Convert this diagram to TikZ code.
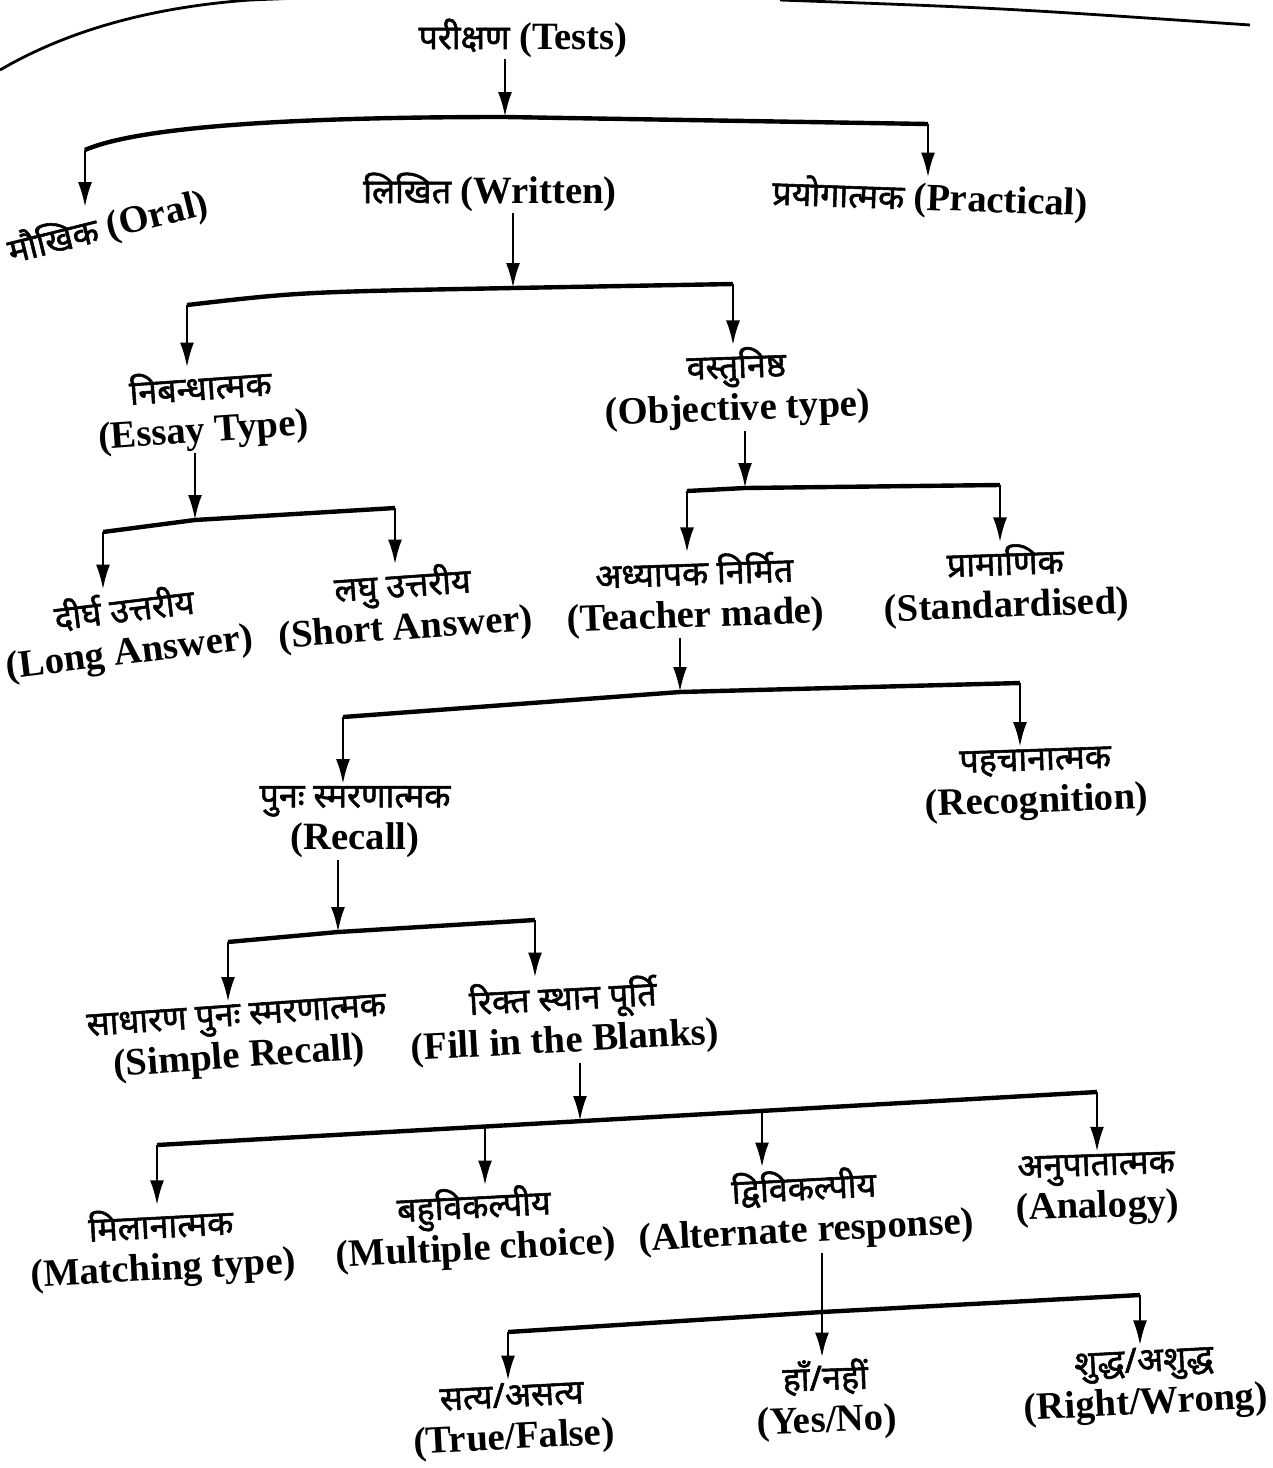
\documentclass[tikz,border=0pt]{standalone}
\usepackage{fontspec}
\setmainfont{Liberation Serif}
\newfontfamily\dev[Script=Devanagari,Scale=0.88,FakeBold=1.6]{Noto Sans}
\usetikzlibrary{arrows.meta}

\newcommand{\Hi}[1]{{\dev #1}}% hindi part of a label

\tikzset{
  lbl/.style={align=center, inner sep=1pt, font=\bfseries\fontsize{22}{24}\selectfont},
  bar/.style={line width=2.5pt, line join=miter},
  arr/.style={line width=1.6pt, -{Latex[length=5mm,width=2.8mm]}},
  edge/.style={line width=1.6pt},
}

\begin{document}
\begin{tikzpicture}[x=0.02cm, y=-0.02cm]
  \useasboundingbox (0,0) rectangle (1272,1468);
  % page border of the scan
  \draw[edge] (0,70) .. controls (60,35) and (140,8) .. (250,0) -- (300,-2);
  \draw[edge] (780,0) .. controls (1000,8) .. (1250,25);
  %
  \node[lbl] (tests) at (523,38) {\Hi{परीक्षण} (Tests)};
  \node[lbl, rotate=14] (oral) at (108,228) {\Hi{मौखिक} (Oral)};
  \node[lbl] (written) at (490,192) {\Hi{लिखित} (Written)};
  \node[lbl, rotate=-2] (practical) at (930,199) {\Hi{प्रयोगात्मक} (Practical)};
  \node[lbl, rotate=4] (essay) at (202,410) {\Hi{निबन्धात्मक}\\(Essay Type)};
  \node[lbl, rotate=2] (objective) at (737,388) {\Hi{वस्तुनिष्ठ}\\(Objective type)};
  \node[lbl, rotate=7] (longans) at (127,632) {\Hi{दीर्घ उत्तरीय}\\(Long Answer)};
  \node[lbl, rotate=4] (shortans) at (404,607) {\Hi{लघु उत्तरीय}\\(Short Answer)};
  \node[lbl, rotate=2] (teacher) at (695,595) {\Hi{अध्यापक निर्मित}\\(Teacher made)};
  \node[lbl, rotate=2] (standard) at (1006,585) {\Hi{प्रामाणिक}\\(Standardised)};
  \node[lbl] (recall) at (355,822) {\Hi{पुनः स्मरणात्मक}\\(Recall)};
  \node[lbl, rotate=2] (recog) at (1036,785) {\Hi{पहचानात्मक}\\(Recognition)};
  \node[lbl, rotate=4] (simple) at (238,1040) {\Hi{साधारण पुनः स्मरणात्मक}\\(Simple Recall)};
  \node[lbl, rotate=3] (fill) at (564,1020) {\Hi{रिक्त स्थान पूर्ति}\\(Fill in the Blanks)};
  \node[lbl, rotate=3] (matching) at (162,1248) {\Hi{मिलानात्मक}\\(Matching type)};
  \node[lbl, rotate=3] (multiple) at (475,1228) {\Hi{बहुविकल्पीय}\\(Multiple choice)};
  \node[lbl, rotate=3] (alternate) at (805,1210) {\Hi{द्विविकल्पीय}\\(Alternate response)};
  \node[lbl, rotate=2] (analogy) at (1097,1190) {\Hi{अनुपातात्मक}\\(Analogy)};
  \node[lbl, rotate=3] (truefalse) at (513,1420) {\Hi{सत्य/असत्य}\\(True/False)};
  \node[lbl, rotate=2] (yesno) at (826,1400) {\Hi{हाँ/नहीं}\\(Yes/No)};
  \node[lbl, rotate=3] (rightwrong) at (1145,1385) {\Hi{शुद्ध/अशुद्ध}\\(Right/Wrong)};
  %
  % tests
  \coordinate (l1) at (85,150);
  \coordinate (j1) at (505,117);
  \coordinate (r1) at (928,124);
  \draw[bar] (l1) .. controls (140,126) and (300,117) .. (j1) -- (r1);
  \draw[arr] (tests.south -| j1) -- (j1);
  \draw[arr] (l1) -- (l1 |- oral.north);
  \draw[arr] (r1) -- (r1 |- practical.north);
  % written
  \coordinate (l2) at (187,305);
  \coordinate (j2) at (513,288);
  \coordinate (r2) at (733,284);
  \draw[bar] (l2) .. controls (300,292) .. (j2) -- (r2);
  \draw[arr] (written.south -| j2) -- (j2);
  \draw[arr] (l2) -- (l2 |- essay.north);
  \draw[arr] (r2) -- (r2 |- objective.north);
  % objective
  \coordinate (l3) at (687,491);
  \coordinate (j3) at (745,488);
  \coordinate (r3) at (1000,485);
  \draw[bar] (l3) -- (j3) -- (r3);
  \draw[arr] (objective.south -| j3) -- (j3);
  \draw[arr] (l3) -- (l3 |- teacher.north);
  \draw[arr] (r3) -- (r3 |- standard.north);
  % essay
  \coordinate (l4) at (103,532);
  \coordinate (j4) at (195,520);
  \coordinate (r4) at (395,508);
  \draw[bar] (l4) -- (j4) -- (r4);
  \draw[arr] (essay.south -| j4) -- (j4);
  \draw[arr] (l4) -- (l4 |- longans.north);
  \draw[arr] (r4) -- (r4 |- shortans.north);
  % teacher made
  \coordinate (l5) at (343,717);
  \coordinate (j5) at (680,692);
  \coordinate (r5) at (1020,683);
  \draw[bar] (l5) -- (j5) -- (r5);
  \draw[arr] (teacher.south -| j5) -- (j5);
  \draw[arr] (l5) -- (l5 |- recall.north);
  \draw[arr] (r5) -- (r5 |- recog.north);
  % recall
  \coordinate (l6) at (228,942);
  \coordinate (j6) at (338,932);
  \coordinate (r6) at (535,920);
  \draw[bar] (l6) -- (j6) -- (r6);
  \draw[arr] (recall.south -| j6) -- (j6);
  \draw[arr] (l6) -- (l6 |- simple.north);
  \draw[arr] (r6) -- (r6 |- fill.north);
  % fill in the blanks
  \coordinate (l7) at (157,1145);
  \coordinate (b7) at (485,1127);
  \coordinate (j7) at (580,1121);
  \coordinate (c7) at (762,1111);
  \coordinate (r7) at (1097,1092);
  \draw[bar] (l7) -- (r7);
  \draw[arr] (fill.south -| j7) -- (j7);
  \draw[arr] (l7) -- (l7 |- matching.north);
  \draw[arr] (b7) -- (b7 |- multiple.north);
  \draw[arr] (c7) -- (c7 |- alternate.north);
  \draw[arr] (r7) -- (r7 |- analogy.north);
  % alternate response
  \coordinate (l8) at (508,1332);
  \coordinate (j8) at (822,1312);
  \coordinate (r8) at (1140,1295);
  \draw[bar] (l8) -- (j8) -- (r8);
  \draw[arr] (alternate.south -| j8) -- (j8 |- yesno.north);
  \draw[arr] (l8) -- (l8 |- truefalse.north);
  \draw[arr] (r8) -- (r8 |- rightwrong.north);
\end{tikzpicture}
\end{document}
